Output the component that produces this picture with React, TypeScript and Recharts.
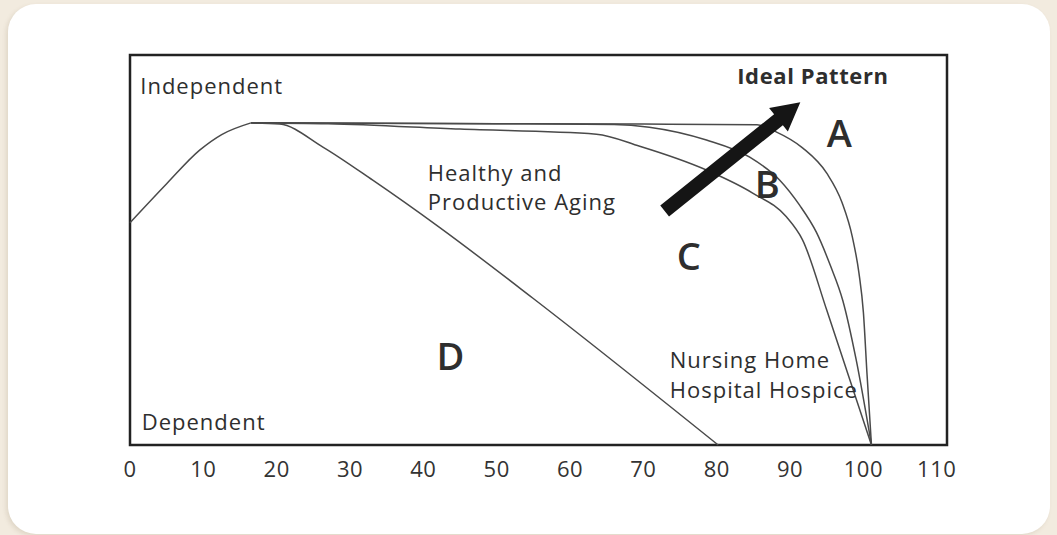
import React from "react";
import { LineChart, Line, XAxis, YAxis, ReferenceArea, ReferenceDot, ReferenceLine } from "recharts";

// ======================
// Curve data (age -> functional capacity, 0 = dependent, 100 = independent)
// ======================
const riseAge = [0, 5, 9.5, 12.5, 16.5];
const riseVal = [57, 67, 75.6, 79.6, 82.6];

const aAge = [16.5, 30, 50, 70, 85.5, 88.1, 91.7, 95, 97.1, 98.5, 99.4, 100.0, 100.5, 101.1];
const aVal = [82.6, 82.5, 82.4, 82.3, 82.1, 80.3, 76.2, 69.7, 62.1, 53.3, 44, 34, 18, 0];

const bAge = [16.5, 50, 66, 70.8, 78.6, 84.5, 88.6, 91.3, 93.6, 95.5, 97.2, 99, 101.1];
const bVal = [82.6, 82.4, 82.2, 81.5, 78.2, 73.8, 67.9, 61.5, 54.5, 46, 37, 22, 0];

const cAge = [16.5, 27, 45, 63.6, 69.5, 78.6, 84.9, 89.5, 91.7, 95, 97.8, 101.1];
const cVal = [82.6, 82.4, 81.0, 79.7, 76.6, 70.5, 64.6, 58.5, 52.6, 34.6, 18.7, 0];

const dAge = [16.5, 20.4, 26.3, 33.1, 42.2, 54.9, 80.2];
const dVal = [82.6, 82.3, 76.4, 67.9, 55.8, 37.7, 0];

const xTicks = [0, 10, 20, 30, 40, 50, 60, 70, 80, 90, 100, 110];

const toPoints = (ages: number[], vals: number[]) => ages.map((age, i) => ({ age, v: vals[i] }));

const curves = [
  { name: "rise", data: toPoints(riseAge, riseVal) },
  { name: "A", data: toPoints(aAge, aVal) },
  { name: "B", data: toPoints(bAge, bVal) },
  { name: "C", data: toPoints(cAge, cVal) },
  { name: "D", data: toPoints(dAge, dVal) },
];

// annotations (placed in data coords)
const notes = [
  { text: "Independent", x: 1.4, y: 90.0, size: 22, weight: 400, anchor: "start", ls: 1 },
  { text: "Dependent", x: 1.6, y: 3.8, size: 22, weight: 400, anchor: "start", ls: 1 },
  { text: "Ideal Pattern", x: 82.8, y: 92.6, size: 22, weight: 700, anchor: "start", ls: 0.6 },
  { text: "Healthy and", x: 40.6, y: 67.7, size: 22, weight: 400, anchor: "start", ls: 1 },
  { text: "Productive Aging", x: 40.6, y: 60.3, size: 22, weight: 400, anchor: "start", ls: 1 },
  { text: "Nursing Home", x: 73.6, y: 19.7, size: 22, weight: 400, anchor: "start", ls: 1 },
  { text: "Hospital Hospice", x: 73.6, y: 12.1, size: 22, weight: 400, anchor: "start", ls: 1 },
  { text: "A", x: 96.7, y: 76.4, size: 38, weight: 600, anchor: "middle", ls: 0 },
  { text: "B", x: 86.9, y: 63.3, size: 38, weight: 600, anchor: "middle", ls: 0 },
  { text: "C", x: 76.2, y: 44.9, size: 38, weight: 600, anchor: "middle", ls: 0 },
  { text: "D", x: 43.7, y: 19.2, size: 38, weight: 600, anchor: "middle", ls: 0 },
];

const FONT = "'Open Sans', 'Noto Sans', sans-serif";
const X_MAX = 111.4;

const Arrow = (props: any) => {
  const { x1, y1, x2, y2 } = props;
  const dx = x2 - x1;
  const dy = y2 - y1;
  const len = Math.sqrt(dx * dx + dy * dy);
  const ux = dx / len;
  const uy = dy / len;
  const nx = -uy;
  const ny = ux;
  const w = 7; // half shaft width
  const hl = 28; // head length
  const hw = 15; // head half width
  const bx = x2 - ux * hl;
  const by = y2 - uy * hl;
  const pts = [
    [x1 + nx * w, y1 + ny * w],
    [bx + nx * w, by + ny * w],
    [bx + nx * hw, by + ny * hw],
    [x2, y2],
    [bx - nx * hw, by - ny * hw],
    [bx - nx * w, by - ny * w],
    [x1 - nx * w, y1 - ny * w],
  ]
    .map((p) => p.join(","))
    .join(" ");
  return <polygon points={pts} fill="#151515" />;
};

const Tick = (props: any) => {
  const { x, y, payload } = props;
  return (
    <text x={x} y={y + 32} textAnchor="middle" fontFamily={FONT} fontSize={22} fill="#333" letterSpacing={0.5}>
      {payload.value}
    </text>
  );
};

export default function App() {
  return (
    <div style={{ position: "fixed", inset: 0, background: "#f2ebdf" }}>
      <div
        style={{
          position: "absolute",
          left: 8,
          top: 4,
          width: 1042,
          height: 530,
          background: "#fff",
          borderRadius: 28,
          boxShadow: "-2px 2px 4px rgba(120,100,70,0.15)",
        }}
      />
      <div style={{ position: "absolute", left: 0, top: 0 }}>
        <LineChart width={1057} height={535} margin={{ top: 55, right: 110, bottom: 60, left: 130 }}>
          <XAxis
            type="number"
            dataKey="age"
            domain={[0, X_MAX]}
            ticks={xTicks}
            interval={0}
            axisLine={false}
            tickLine={false}
            tickSize={0}
            tickMargin={0}
            height={30}
            tick={<Tick />}
          />
          <YAxis type="number" dataKey="v" domain={[0, 100]} hide />
          <ReferenceArea
            x1={0}
            x2={X_MAX}
            y1={0}
            y2={100}
            fill="#fff"
            fillOpacity={0}
            stroke="#222"
            strokeWidth={2.5}
            ifOverflow="visible"
          />
          {curves.map((c) => (
            <Line
              key={c.name}
              data={c.data}
              dataKey="v"
              type="monotone"
              stroke="#4a4a4a"
              strokeWidth={1.5}
              dot={false}
              activeDot={false}
              isAnimationActive={false}
            />
          ))}
          <ReferenceLine
            segment={[
              { x: 72.9, y: 60 },
              { x: 91.4, y: 87.9 },
            ]}
            shape={<Arrow />}
            ifOverflow="visible"
          />
          {notes.map((n) => (
            <ReferenceDot
              key={n.text}
              x={n.x}
              y={n.y}
              r={0}
              ifOverflow="visible"
              shape={(p: any) => (
                <text
                  x={p.cx}
                  y={p.cy}
                  textAnchor={n.anchor as any}
                  fontFamily={FONT}
                  fontSize={n.size}
                  fontWeight={n.weight}
                  letterSpacing={n.ls}
                  fill="#2e2e2e"
                >
                  {n.text}
                </text>
              )}
            />
          ))}
        </LineChart>
      </div>
    </div>
  );
}
